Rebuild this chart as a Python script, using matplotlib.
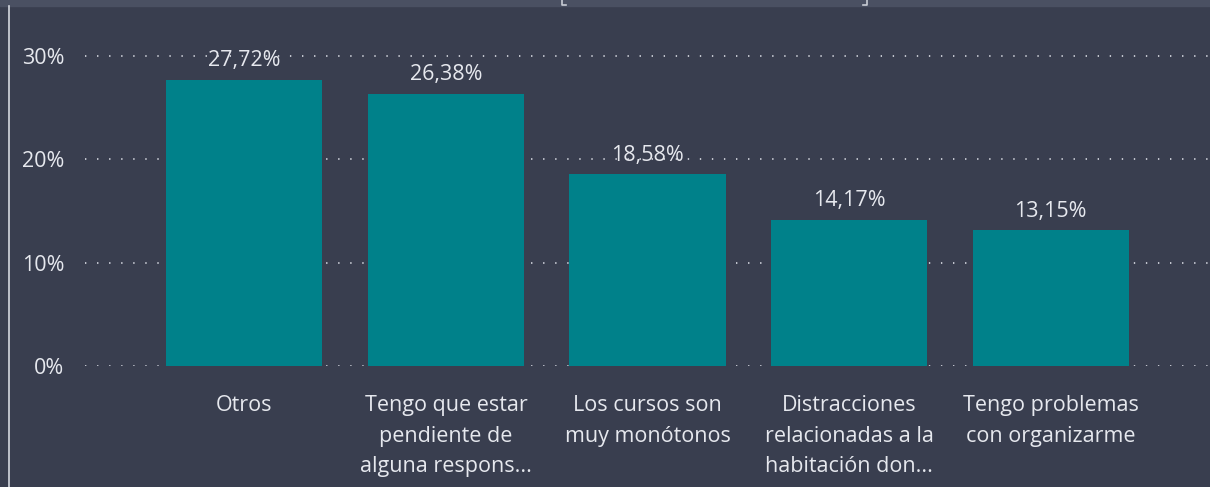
import matplotlib.pyplot as plt
import matplotlib.lines as mlines

categorias = [
    "Otros",
    "Tengo que estar\npendiente de\nalguna respons...",
    "Los cursos son\nmuy monótonos",
    "Distracciones\nrelacionadas a la\nhabitación don...",
    "Tengo problemas\ncon organizarme",
]
porcentajes = [27.72, 26.38, 18.58, 14.17, 13.15]
ticks_y = [0, 10, 20, 30]

fondo = "#393e4f"
banda = "#4a5062"
barra = "#00818a"
texto = "#e6e8ee"

plt.rcParams["font.family"] = ["Open Sans", "DejaVu Sans"]

fig = plt.figure(figsize=(12.10, 4.87), dpi=100, facecolor=fondo)
ax = fig.add_axes([85 / 1210, 121 / 487, 1 - 85 / 1210, (466 - 121) / 487])
ax.set_facecolor(fondo)

x = list(range(len(categorias)))
ax.bar(x, porcentajes, width=0.774, color=barra, zorder=2)

for xi, v in zip(x, porcentajes):
    ax.annotate(f"{v:.2f}%".replace(".", ","), (xi, v), xytext=(0, 6),
                textcoords="offset points", ha="center", va="bottom",
                color=texto, fontsize=15.5, zorder=3)

ax.set_xlim(-0.79, 4.79)
ax.set_ylim(0, 33.4)
ax.set_yticks(ticks_y)
ax.set_yticklabels([f"{t}%" for t in ticks_y])
ax.set_xticks(x)
ax.set_xticklabels(categorias, linespacing=1.6)

ax.tick_params(axis="both", length=0, colors=texto, labelsize=15.5)
ax.tick_params(axis="y", pad=15)
ax.tick_params(axis="x", pad=21)

# líneas de referencia punteadas detrás de las barras
for t in ticks_y:
    ax.axhline(t, color="#c3c6cf", linewidth=1.4, linestyle=(0, (0.7, 5.5)), zorder=1)
for s in ax.spines.values():
    s.set_visible(False)

# franja superior y borde izquierdo del panel
fig.patches.append(plt.Rectangle((0, 481 / 487), 1, 6 / 487, transform=fig.transFigure,
                                 color=banda, zorder=0))
fig.lines.append(mlines.Line2D([8.5 / 1210, 8.5 / 1210], [0, 481 / 487],
                               transform=fig.transFigure, color="#d5d8e0", linewidth=1.2))
for bx, d in [(562, 1), (867, -1)]:
    fig.lines.append(mlines.Line2D([bx / 1210, bx / 1210, (bx + 4 * d) / 1210],
                                   [1, 482 / 487, 482 / 487],
                                   transform=fig.transFigure, color="#c8cbd3", linewidth=1.2))

fig.savefig("out.png", dpi=100, facecolor=fondo)
